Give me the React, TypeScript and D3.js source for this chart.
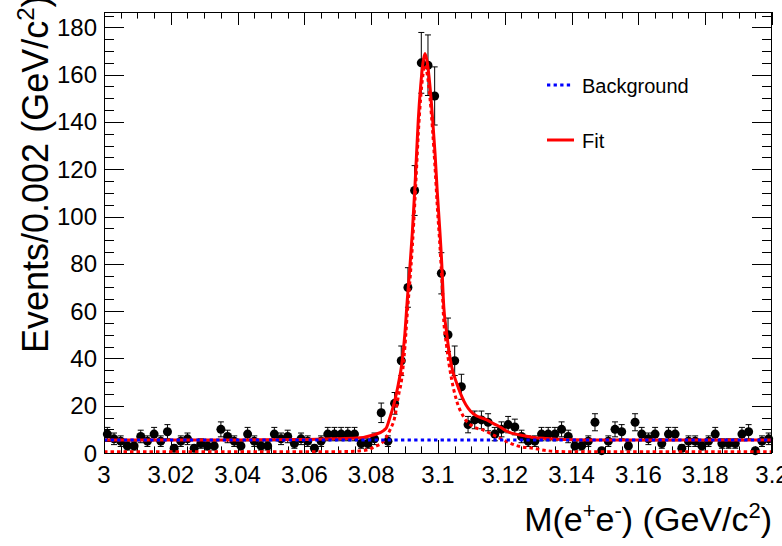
import React from 'react';
import * as d3 from 'd3';

// ---- data ----
const binStart = 3.0;
const binWidth = 0.002;
const counts = [
  8, 6, 5, 3, 3, 7, 5, 8, 5, 9,
  2, 5, 6, 2, 4, 3, 3, 10, 7, 5,
  3, 8, 5, 3, 3, 8, 6, 7, 4, 6,
  5, 2, 5, 8, 8, 8, 8, 8, 4, 4,
  6, 17, 5, 21, 39, 70, 111, 165, 164, 151,
  76, 50, 39, 28, 12, 14, 14, 13, 8, 10,
  12, 11, 7, 5, 5, 8, 8, 8, 10, 7,
  3, 3, 5, 13, 1, 5, 10, 9, 3, 13,
  8, 6, 8, 4, 8, 8, 2, 5, 5, 3,
  5, 8, 4, 4, 4, 8, 9, 1, 5, 6,
];

const fitMass = [
  3.0, 3.04, 3.06, 3.068, 3.0757, 3.0806, 3.0838, 3.0846, 3.0856, 3.0871,
  3.0881, 3.0891, 3.0901, 3.0908, 3.0916, 3.0923, 3.0931, 3.0936, 3.0941, 3.0948,
  3.0955, 3.0961, 3.0968, 3.0976, 3.0984, 3.0991, 3.0998, 3.1006, 3.1012, 3.1016,
  3.1026, 3.1041, 3.1056, 3.1076, 3.1106, 3.1146, 3.1165, 3.1186, 3.1206, 3.1246,
  3.1285, 3.1326, 3.1356, 3.145, 3.2,
];
const fitValue = [
  5.5, 5.55, 5.7, 6.0, 6.3, 7.6, 9.6, 10.8, 15.0, 22.4,
  29.0, 37.0, 50.7, 64.8, 78.9, 93, 112.8, 127, 141, 155,
  165, 169, 165, 155, 141, 127, 110, 93, 78, 65,
  50.7, 36.5, 29.5, 22.4, 16.5, 14, 12.5, 11, 9.2, 7.6,
  6.6, 6.1, 5.8, 5.55, 5.5,
];

const sigMass = [
  3.0, 3.06, 3.073, 3.0787, 3.0811, 3.0836, 3.0856, 3.0871, 3.0881, 3.0891,
  3.0901, 3.0908, 3.0916, 3.0923, 3.0931, 3.0936, 3.0941, 3.0948, 3.0955, 3.0961,
  3.0968, 3.0976, 3.0984, 3.0991, 3.0998, 3.1006, 3.1012, 3.1016, 3.1026, 3.1041,
  3.1056, 3.1076, 3.1106, 3.1136, 3.1166, 3.1206, 3.1246, 3.1285, 3.1325, 3.1365,
  3.145, 3.2,
];
const sigValue = [
  0.5, 0.5, 0.6, 1.3, 2.7, 4.8, 9.7, 15.4, 23.8, 31,
  45, 59, 73, 87, 107, 121, 135, 150, 160, 164,
  160, 150, 136, 121, 104, 87, 72, 59, 45, 31,
  22, 15.4, 11.1, 9.7, 7.6, 4.8, 2.7, 2.0, 1.0, 0.6,
  0.5, 0.5,
];

const bkgMass = [3.0, 3.2];
const bkgValue = [5.5, 5.5];

const xTickValues = [3.0, 3.02, 3.04, 3.06, 3.08, 3.1, 3.12, 3.14, 3.16, 3.18, 3.2];
const xTickLabels = ['3', '3.02', '3.04', '3.06', '3.08', '3.1', '3.12', '3.14', '3.16', '3.18', '3.2'];
const yTickValues = [0, 20, 40, 60, 80, 100, 120, 140, 160, 180];
const yTickLabels = ['0', '20', '40', '60', '80', '100', '120', '140', '160', '180'];

const legendLabels = ['Background', 'Fit'];

const FONT = '"Liberation Sans", Arial, Helvetica, sans-serif';

export default function App() {
  const W = 782, H = 546;
  const L = 104, R = 772, T = 12, B = 453;
  const x = d3.scaleLinear().domain([3.0, 3.2]).range([L, R]);
  const y = d3.scaleLinear().domain([0, 186.5]).range([B, T]);

  const xMinor = d3.range(0, 41).map((i) => 3.0 + i * 0.005);
  const yMinor = d3.range(0, 38).map((i) => i * 5).filter((v) => v <= 186.5);

  const line = d3
    .line<[number, number]>()
    .x((d) => x(d[0]))
    .y((d) => y(d[1]))
    .curve(d3.curveMonotoneX);

  const fitPts = fitMass.map((m, i) => [m, fitValue[i]] as [number, number]);
  const sigPts = sigMass.map((m, i) => [m, sigValue[i]] as [number, number]);
  const bkgPts = bkgMass.map((m, i) => [m, bkgValue[i]] as [number, number]);

  const isMajorX = (v: number) => xTickValues.some((t) => Math.abs(t - v) < 1e-6);
  const isMajorY = (v: number) => yTickValues.some((t) => Math.abs(t - v) < 1e-6);

  return (
    <svg
      width={W}
      height={H}
      style={{ position: 'absolute', left: 0, top: 0, background: '#fff' }}
      fontFamily={FONT}
    >
      <defs>
        <clipPath id="frame">
          <rect x={L} y={T} width={R - L} height={B - T} />
        </clipPath>
      </defs>
      <rect x={0} y={0} width={W} height={H} fill="#fff" />

      {/* ticks */}
      <g stroke="#000" strokeWidth={1}>
        {xMinor.map((v, i) => {
          const len = isMajorX(v) ? 13 : 6.6;
          const px = Math.round(x(v)) + 0.5;
          return (
            <g key={'xt' + i}>
              <line x1={px} x2={px} y1={B} y2={B - len} />
              <line x1={px} x2={px} y1={T} y2={T + len} />
            </g>
          );
        })}
        {yMinor.map((v, i) => {
          const len = isMajorY(v) ? 20 : 10;
          const py = Math.round(y(v)) + 0.5;
          return (
            <g key={'yt' + i}>
              <line x1={L} x2={L + len} y1={py} y2={py} />
              <line x1={R} x2={R - len} y1={py} y2={py} />
            </g>
          );
        })}
      </g>

      {/* data points with errors */}
      <g>
        {counts.map((c, i) => {
          const m = binStart + (i + 0.5) * binWidth;
          const e = Math.sqrt(c);
          const px = x(m);
          const y1 = y(c + e);
          const y0 = y(Math.max(0, c - e));
          return (
            <g key={'p' + i}>
              <line x1={px} x2={px} y1={y1} y2={y0} stroke="#000" strokeWidth={1} />
              <line x1={px - 3} x2={px + 3} y1={y1} y2={y1} stroke="#000" strokeWidth={1} />
              <line x1={px - 3} x2={px + 3} y1={y0} y2={y0} stroke="#000" strokeWidth={1} />
              <circle cx={px} cy={y(c)} r={4.5} fill="#000" />
            </g>
          );
        })}
      </g>

      {/* curves */}
      <g clipPath="url(#frame)" fill="none">
        <path d={line(fitPts) || ''} stroke="#ff0000" strokeWidth={3} />
        <path d={line(sigPts) || ''} stroke="#ff0000" strokeWidth={3} strokeDasharray="3.5,3" />
        <path d={line(bkgPts) || ''} stroke="#0000ff" strokeWidth={3} strokeDasharray="3.3,3.3" />
      </g>

      {/* frame */}
      <rect x={L + 0.5} y={T + 0.5} width={R - L - 1} height={B - T} fill="none" stroke="#000" strokeWidth={1} />

      {/* tick labels */}
      <g fontSize={24} fill="#000">
        {xTickValues.map((v, i) => (
          <text key={'xl' + i} x={x(v)} y={483} textAnchor="middle">
            {xTickLabels[i]}
          </text>
        ))}
        {yTickValues.map((v, i) => (
          <text key={'yl' + i} x={97} y={y(v) + 8.5} textAnchor="end">
            {yTickLabels[i]}
          </text>
        ))}
      </g>

      {/* axis titles */}
      <text x={772} y={531} textAnchor="end" fontSize={34} fill="#000">
        <tspan>M(e</tspan>
        <tspan dy={-13} fontSize={22}>+</tspan>
        <tspan dy={13}>e</tspan>
        <tspan dy={-13} fontSize={22}>-</tspan>
        <tspan dy={13}>) (GeV/c</tspan>
        <tspan dy={-13} fontSize={22}>2</tspan>
        <tspan dy={13}>)</tspan>
      </text>
      <text transform="translate(48,353) rotate(-90)" fontSize={36} fill="#000">
        <tspan>Events/0.002 (GeV/c</tspan>
        <tspan dy={-14} fontSize={24}>2</tspan>
        <tspan dy={14}>)</tspan>
      </text>

      {/* legend */}
      <g>
        <line x1={547} x2={572} y1={85} y2={85} stroke="#0000ff" strokeWidth={3} strokeDasharray="3.3,3.3" />
        <text x={582} y={92.5} fontSize={20} fill="#000">{legendLabels[0]}</text>
        <line x1={547} x2={574} y1={140} y2={140} stroke="#ff0000" strokeWidth={3} />
        <text x={582} y={147.5} fontSize={20} fill="#000">{legendLabels[1]}</text>
      </g>
    </svg>
  );
}
